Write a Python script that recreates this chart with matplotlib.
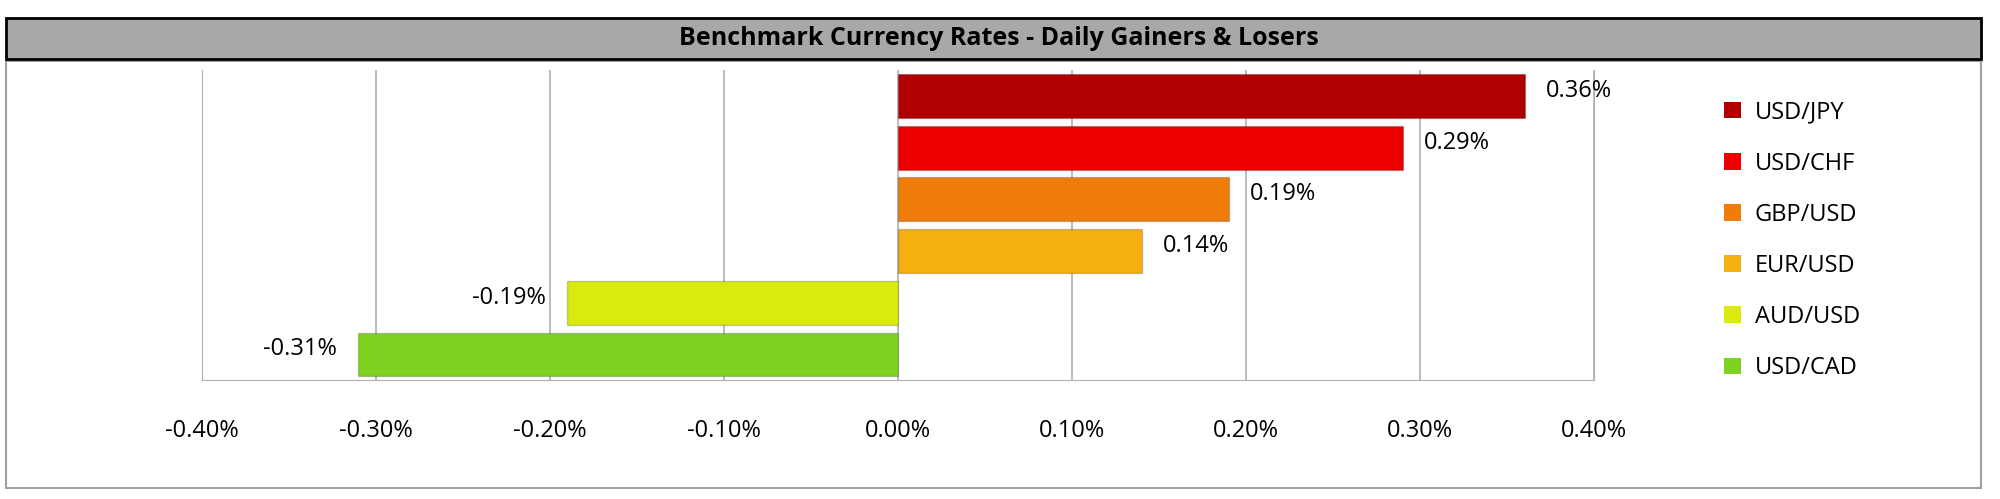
import matplotlib
matplotlib.use("Agg")
import matplotlib.pyplot as plt
from matplotlib.patches import Rectangle, Patch

pairs = ["USD/JPY", "USD/CHF", "GBP/USD", "EUR/USD", "AUD/USD", "USD/CAD"]
changes = [0.36, 0.29, 0.19, 0.14, -0.19, -0.31]
colors = ["#B00000", "#EE0000", "#F07D0A", "#F5B00F", "#D9EA0C", "#7ED321"]
xticks = [-0.4, -0.3, -0.2, -0.1, 0.0, 0.1, 0.2, 0.3, 0.4]
title = "Benchmark Currency Rates - Daily Gainers & Losers"

W, H = 1568, 391
plt.rcParams['font.family'] = ['Open Sans', 'DejaVu Sans']
fig = plt.figure(figsize=(20, 4.99), dpi=100)

fig.patches.append(Rectangle((5/W, 1-382/H), 1548/W, 334/H, transform=fig.transFigure,
                             fill=False, edgecolor="#A0A0A0", lw=1.5))
fig.patches.append(Rectangle((5/W, 1-46/H), 1548/W, 32/H, transform=fig.transFigure,
                             facecolor="#A8A8A8", edgecolor="black", lw=2))
fig.text(783/W, 1-30/H, title, ha="center", va="center", fontsize=18, fontweight="bold")

ax = fig.add_axes([158/W, 1-298/H, 1092/W, 243/H])
y = list(range(len(pairs)))
ax.barh(y, changes, height=0.85, color=colors, edgecolor=["#00000030"]*6, lw=1, zorder=3)
ax.set_ylim(len(pairs)-0.5, -0.5)
ax.set_xlim(-0.4, 0.4)
ax.set_xticks(xticks)
ax.set_xticklabels([f"{t:.2f}%" for t in xticks], fontsize=17)
ax.tick_params(axis="x", length=0, pad=28)
ax.set_yticks([])
ax.grid(axis="x", color="#B0B0B0", lw=1.2, zorder=0)
for s in ax.spines.values():
    s.set_color("#B0B0B0")
ax.spines["top"].set_visible(False)
for i, v in enumerate(changes):
    if v >= 0:
        ax.text(v + 0.012, i - 0.1, f"{v:.2f}%", va="center", ha="left", fontsize=17)
    else:
        ax.text(v - 0.012, i - 0.1, f"{v:.2f}%", va="center", ha="right", fontsize=17)

handles = [Patch(facecolor=c, edgecolor="none") for c in colors]
fig.legend(handles, pairs, loc="upper left", bbox_to_anchor=(1335/W, 1-62/H), frameon=False,
           fontsize=17, labelspacing=1.15, handlelength=0.7, handleheight=0.7, handletextpad=0.6)

fig.savefig("out.png", dpi=100)
